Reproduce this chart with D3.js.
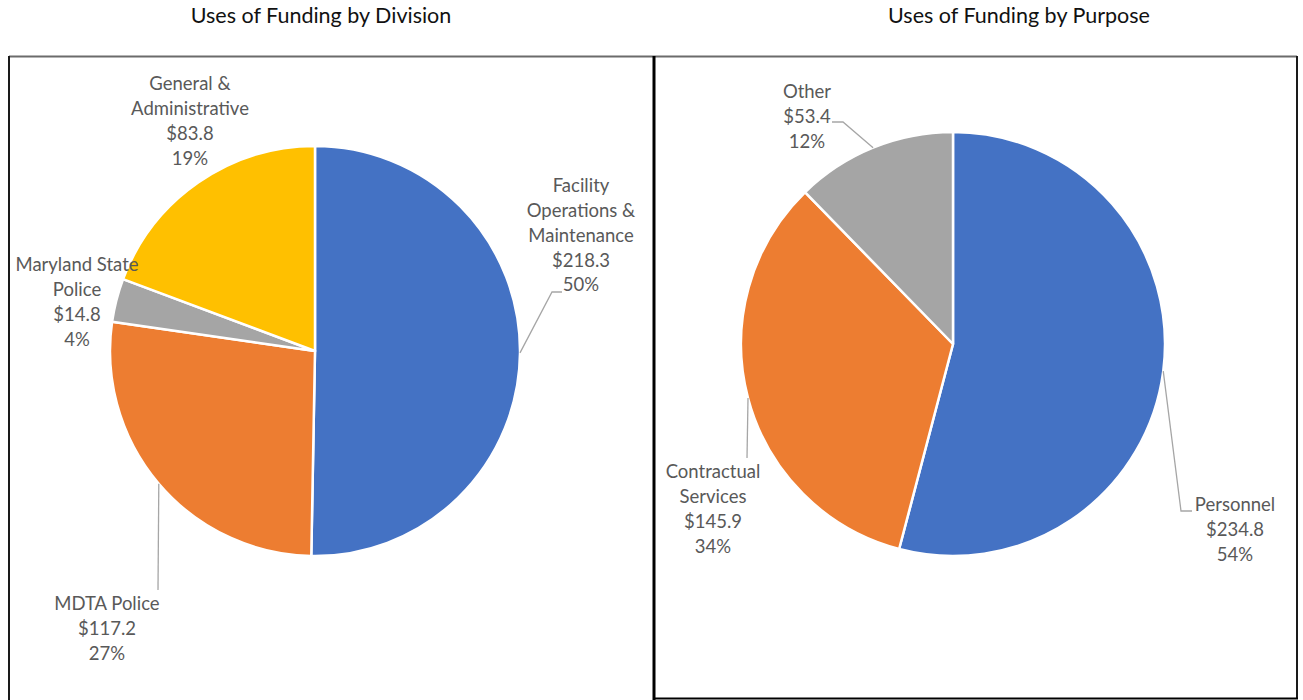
<!DOCTYPE html>
<html><head><meta charset="utf-8">
<script src="https://cdn.jsdelivr.net/npm/d3@7"></script>
<style>body{margin:0;background:#fff}svg{display:block}</style>
</head><body>
<svg id="c" width="1303" height="700"></svg>
<script>
// ---- data ----
const divisionLabels = [["Facility","Operations &","Maintenance"],["MDTA Police"],["Maryland State","Police"],["General &","Administrative"]];
const divisionValues = [218.3, 117.2, 14.8, 83.8];
const divisionPercents = ["50%","27%","4%","19%"];
const purposeLabels = [["Personnel"],["Contractual","Services"],["Other"]];
const purposeValues = [234.8, 145.9, 53.4];
const purposePercents = ["54%","34%","12%"];
const titles = ["Uses of Funding by Division","Uses of Funding by Purpose"];

// ---- layout/style ----
const colorsDiv = ["#4472C4","#ED7D31","#A5A5A5","#FFC000"];
const colorsPur = ["#4472C4","#ED7D31","#A5A5A5"];
const FONT = "Lato, 'Open Sans', sans-serif";
const FS = 18.5, LH = 24.7;
const panels = [
  {x0:9, x1:654, title:titles[0], tx:321, cx:315, cy:351, r:205, labels:divisionLabels, values:divisionValues, pct:divisionPercents, colors:colorsDiv,
   lab:[{x:581,y:186,elbow:[[552,292],[562,292]]},{x:107,y:604,elbow:[[158,590]]},{x:77,y:265,elbow:null},{x:190,y:84,elbow:null}]},
  {x0:654, x1:1297, title:titles[1], tx:1019, cx:953, cy:344, r:212, labels:purposeLabels, values:purposeValues, pct:purposePercents, colors:colorsPur,
   lab:[{x:1235,y:505,elbow:[[1181,511],[1192,511]]},{x:713,y:472,elbow:[[747,458]]},{x:807,y:92,elbow:[[843,122],[832,122]]}]}
];

const svg = d3.select("#c");

panels.forEach((p,pi)=>{
  svg.append("text").attr("x",p.tx).attr("y",15).attr("dy","0.35em")
    .attr("text-anchor","middle").attr("font-family",FONT).attr("font-weight",400).attr("font-size",21.5).attr("fill","#111").text(p.title);

  const pie = d3.pie().sort(null).value(d=>d)(p.values);
  const arc = d3.arc().innerRadius(0).outerRadius(p.r);
  const g = svg.append("g").attr("transform",`translate(${p.cx},${p.cy})`);
  g.selectAll("path").data(pie).join("path")
    .attr("d",arc).attr("fill",(d,i)=>p.colors[i]).attr("stroke","#fff").attr("stroke-width",2.5).attr("stroke-linejoin","round");

  pie.forEach((d,i)=>{
    const L = p.lab[i];
    const mid = (d.startAngle+d.endAngle)/2;
    const sx = p.cx + p.r*Math.sin(mid), sy = p.cy - p.r*Math.cos(mid);
    if (L.elbow){
      const pts = [[sx,sy], ...L.elbow];
      svg.append("path").attr("d",d3.line()(pts)).attr("fill","none").attr("stroke","#A6A6A6").attr("stroke-width",1.3);
    }
    const lines = [...p.labels[i], "$"+d3.format(".1f")(p.values[i]), p.pct[i]];
    const t = svg.append("text").attr("text-anchor","middle").attr("font-family",FONT).attr("font-size",FS).attr("fill","#595959");
    lines.forEach((s,k)=>t.append("tspan").attr("x",L.x).attr("y",L.y+k*LH).attr("dy","0.35em").text(s));
  });
});

// panel borders
svg.append("line").attr("x1",9).attr("x2",1297).attr("y1",56.5).attr("y2",56.5).attr("stroke","#6b6b6b").attr("stroke-width",2);
svg.append("line").attr("x1",9).attr("x2",9).attr("y1",56).attr("y2",700).attr("stroke","#1a1a1a").attr("stroke-width",2);
svg.append("line").attr("x1",654).attr("x2",654).attr("y1",56).attr("y2",700).attr("stroke","#000").attr("stroke-width",3);
svg.append("line").attr("x1",1297).attr("x2",1297).attr("y1",56).attr("y2",699).attr("stroke","#1a1a1a").attr("stroke-width",2);
svg.append("line").attr("x1",654).attr("x2",1298).attr("y1",698.5).attr("y2",698.5).attr("stroke","#000").attr("stroke-width",2);
</script>
</body></html>
